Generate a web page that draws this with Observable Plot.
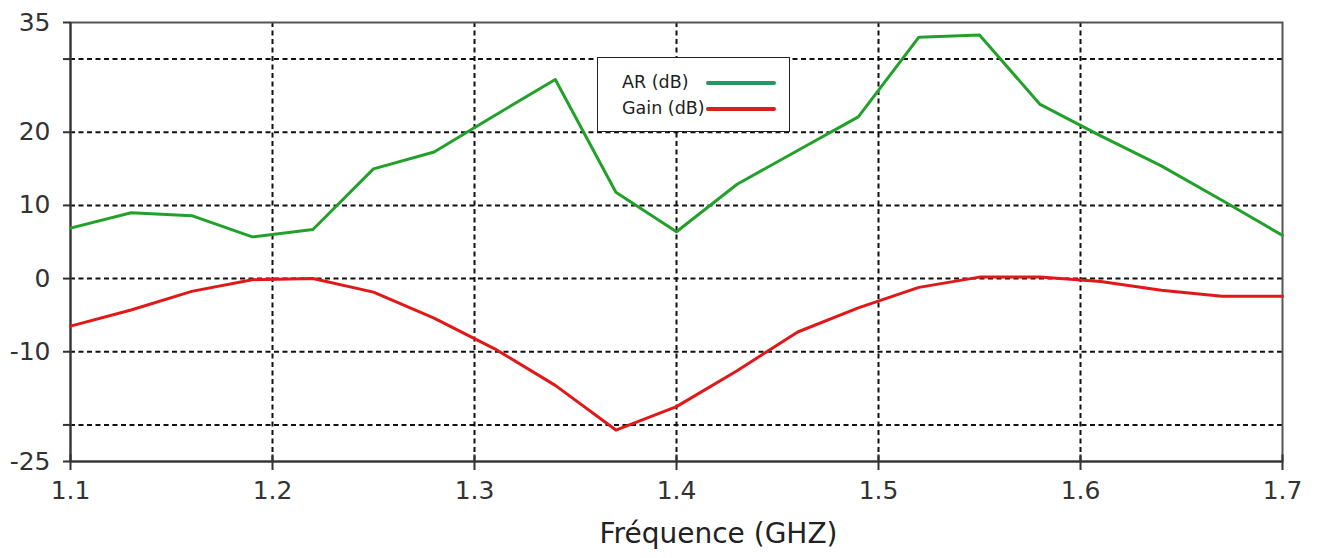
<!DOCTYPE html>
<html>
<head>
<meta charset="utf-8">
<script src="https://cdn.jsdelivr.net/npm/d3@7"></script>
<script src="https://cdn.jsdelivr.net/npm/@observablehq/plot@0.6"></script>
<style>
  html, body { margin: 0; padding: 0; background: #fff; }
  #wrap { position: relative; width: 1317px; height: 558px; }
  #legend {
    position: absolute; left: 597px; top: 57px; width: 191px; height: 73px;
    border: 1.5px solid #222; background: #fff;
    font-family: "DejaVu Sans", sans-serif; font-size: 17.5px; color: #222;
  }
  #legend .row { position: absolute; left: 24px; height: 22px; line-height: 22px; }
  #legend .sw { position: absolute; left: 108px; width: 70px; height: 4px; border-radius: 2px; }
</style>
</head>
<body>
<div id="wrap"></div>
<script>
// Frequencies (GHz)
const freq = [1.10, 1.13, 1.16, 1.19, 1.22, 1.25, 1.28, 1.31, 1.34, 1.37, 1.40,
              1.43, 1.46, 1.49, 1.52, 1.55, 1.58, 1.61, 1.64, 1.67, 1.70];
// AR (dB)
const ar = [6.9, 9.0, 8.6, 5.7, 6.7, 15.0, 17.3, 22.3, 27.2, 11.8, 6.4,
            12.9, 17.5, 22.1, 33.0, 33.3, 23.8, 19.5, 15.4, 10.7, 5.9];
// Gain (dB)
const gain = [-6.5, -4.3, -1.75, -0.15, 0.0, -1.85, -5.4, -9.6, -14.6, -20.7, -17.5,
              -12.6, -7.3, -4.0, -1.2, 0.2, 0.2, -0.4, -1.6, -2.4, -2.4];

const seriesNames = ["AR (dB)", "Gain (dB)"];
const seriesColors = ["#22a12a", "#e01818"];
const legendColors = ["#1f9a62", "#d42020"];

const xTicks = [1.1, 1.2, 1.3, 1.4, 1.5, 1.6, 1.7];
const xGrid = [1.2, 1.3, 1.4, 1.5, 1.6];
const yTicks = [35, 30, 20, 10, 0, -10, -20, -25];
const yLabels = [35, 20, 10, 0, -10, -25];
const yGrid = [30, 20, 10, 0, -10, -20];
const xLabel = "Fréquence (GHZ)";

const arData = freq.map((f, i) => ({f, v: ar[i]}));
const gainData = freq.map((f, i) => ({f, v: gain[i]}));

const dash = "5,3.5";
const fmtX = d3.format(".1f");

const chart = Plot.plot({
  width: 1317,
  height: 558,
  marginLeft: 70,
  marginRight: 35,
  marginTop: 22,
  marginBottom: 97,
  style: {fontFamily: "DejaVu Sans, sans-serif", fontSize: "24px", color: "#333", background: "#fff"},
  x: {domain: [1.1, 1.7]},
  y: {domain: [-25, 35]},
  marks: [
    Plot.gridX(xGrid, {stroke: "#111", strokeOpacity: 1, strokeWidth: 2, strokeDasharray: dash}),
    Plot.gridY(yGrid, {stroke: "#111", strokeOpacity: 1, strokeWidth: 2, strokeDasharray: dash}),
    Plot.frame({stroke: "#555", strokeWidth: 2}),
    Plot.ruleX(xTicks, {y1: -25, y2: -24.1, stroke: "#333", strokeWidth: 2}),
    Plot.axisX(xTicks, {tickFormat: () => "", tickSize: 9, label: null, stroke: "#333", strokeWidth: 2}),
    Plot.axisY(yTicks, {tickFormat: () => "", tickSize: 7, label: null, stroke: "#333", strokeWidth: 2}),
    Plot.ruleX([1.1], {stroke: "#333", strokeWidth: 2}),
    Plot.ruleY([-25], {stroke: "#333", strokeWidth: 2}),
    // tick labels
    Plot.text(xTicks, {x: d => d, frameAnchor: "bottom", dy: 37, fontSize: 25, fill: "#333", text: d => fmtX(d)}),
    Plot.text(yLabels, {y: d => d, frameAnchor: "left", dx: -20, textAnchor: "end", fontSize: 25, fill: "#333", text: d => String(d)}),
    Plot.line(gainData, {x: "f", y: "v", stroke: seriesColors[1], strokeWidth: 3}),
    Plot.line(arData, {x: "f", y: "v", stroke: seriesColors[0], strokeWidth: 3}),
    Plot.text([xLabel], {frameAnchor: "bottom", dx: 42, dy: 81, fontSize: 28, fill: "#222", text: d => d})
  ]
});

const wrap = document.getElementById("wrap");
wrap.appendChild(chart);

// Legend
const legend = document.createElement("div");
legend.id = "legend";
seriesNames.forEach((name, i) => {
  const row = document.createElement("div");
  row.className = "row";
  row.style.top = (13 + i * 26) + "px";
  row.textContent = name;
  legend.appendChild(row);
  const sw = document.createElement("div");
  sw.className = "sw";
  sw.style.top = (23 + i * 26) + "px";
  sw.style.background = legendColors[i];
  legend.appendChild(sw);
});
wrap.appendChild(legend);
</script>
</body>
</html>
